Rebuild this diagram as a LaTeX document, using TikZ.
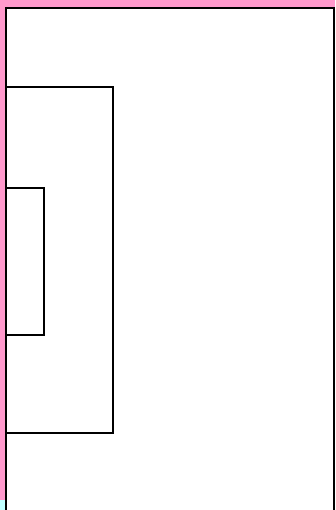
\documentclass[tikz,border=0pt]{standalone}
\definecolor{bgpink}{HTML}{FF99CC}
\definecolor{bgcyan}{HTML}{BFFFFF}
\begin{document}
\begin{tikzpicture}[x=1pt,y=-1pt,
  frame/.style={draw=black,line width=1.3pt}]
\useasboundingbox (0,0) rectangle (335,510);
\clip (0,0) rectangle (335,510);
\fill[bgpink] (0,0) rectangle (335,510);
\fill[bgcyan] (0,500) rectangle (6,510);
\fill[white,draw=black,line width=2pt] (6,7.8) rectangle (334,520);
\draw[frame] (6,87) rectangle (113,433);
\draw[frame] (6,188) rectangle (44,335);
\draw[black,line width=2pt] (6,7) -- (6,510);
\end{tikzpicture}
\end{document}
